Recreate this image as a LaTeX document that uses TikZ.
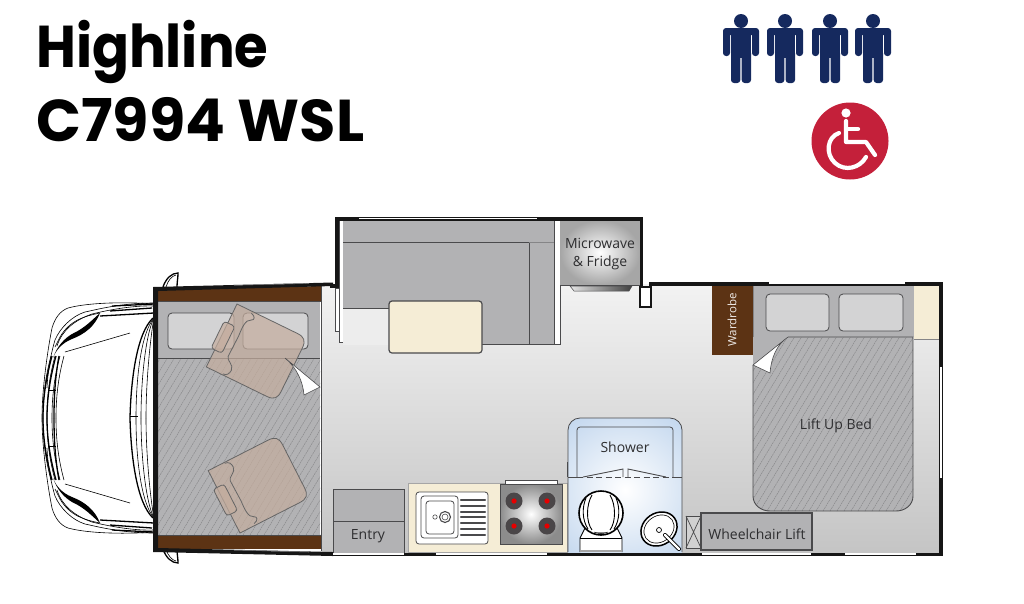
\documentclass[tikz,border=0pt]{standalone}
\usepackage{fontspec}
\setmainfont{Open Sans}
\newfontfamily\titlefont{Poppins}[BoldFont={Poppins Bold}]
\usetikzlibrary{shadings}

\definecolor{wallblack}{HTML}{161616}
\definecolor{woodbrown}{HTML}{5C3314}
\definecolor{seatgrey}{HTML}{B2B2B4}
\definecolor{pillowgrey}{HTML}{D3D3D4}
\definecolor{creamtop}{HTML}{F5EDD6}
\definecolor{edgegrey}{HTML}{4A4A4C}
\definecolor{hatchgrey}{HTML}{858587}
\definecolor{chairtan}{HTML}{C4AD9E}
\definecolor{showerblue}{HTML}{C6D9EF}
\definecolor{burnergrey}{HTML}{4A4648}
\definecolor{personblue}{HTML}{15295E}
\definecolor{badgered}{HTML}{C4203A}
\definecolor{labeltext}{HTML}{2E2E30}

\tikzset{
	wall/.style = {fill=wallblack, draw=none},
	pane/.style = {fill=white, draw=hatchgrey, line width=0.5pt},
	cushion/.style = {fill=seatgrey, draw=edgegrey, line width=0.7pt},
	pillow/.style = {fill=pillowgrey, draw=edgegrey, line width=0.8pt, rounded corners=4pt},
	hatchline/.style = {hatchgrey, line width=0.4pt, dash pattern=on 2pt off 0.7pt},
	cape/.style = {fill=white, draw=edgegrey, line width=0.6pt},
	chair/.style = {fill=chairtan, fill opacity=0.72, draw=black!60, line width=0.8pt},
	label/.style = {text=labeltext, font=\fontsize{14}{18}\selectfont, align=center, inner sep=0pt},
	titletext/.style = {anchor=base west, inner sep=0pt, font=\titlefont\bfseries\fontsize{59}{62}\selectfont},
	truck/.style = {black, line width=0.6pt},
	bigtruck/.style = {black, line width=1.3pt}
}

\newcommand{\chairshape}{
	\draw[chair] (0,0) -- (67,0) .. controls (75,0) and (78,3) .. (78,11) -- (78,59)
		.. controls (78,67) and (75,70) .. (67,70) -- (0,70) -- cycle;
	\draw[chair, fill=none] (17,2) .. controls (22,3) and (23,7) .. (20,8)
		.. controls (14,10) and (15,20) .. (15.5,28) -- (15,51)
		.. controls (15,55) and (24,56) .. (24,62) .. controls (24,66) and (22,69) .. (18,69);
	\draw[chair, rounded corners=3pt] (-4,21) rectangle (8,51);
}

\begin{document}
\begin{tikzpicture}[x=1pt, y=-1pt]
	\useasboundingbox (0,0) rectangle (1024,603);

	% title
	\node[titletext] (titleone) at (36,67) {\scalebox{0.924}[1]{Highline}};
	\node[titletext] (titletwo) at (36,141) {C7994 WSL};

	% people
	\foreach \personx in {741,785,830,873}
	{
		\begin{scope}[shift={(\personx,0)}]
			\fill[personblue] (0,21) circle[radius=7pt];
			\fill[personblue, rounded corners=3pt] (-18,28) rectangle (18,35);
			\fill[personblue, rounded corners=3pt] (-18,29) rectangle (-11,56);
			\fill[personblue, rounded corners=3pt] (11,29) rectangle (18,56);
			\fill[personblue] (-10,29) rectangle (10,58);
			\fill[personblue, rounded corners=3pt] (-10,50) rectangle (-0.7,83);
			\fill[personblue, rounded corners=3pt] (0.7,50) rectangle (10,83);
		\end{scope}
	}

	% wheelchair badge
	\fill[badgered] (850,141) circle[radius=38.5pt];
	\fill[white] (846,113) circle[radius=4.6pt];
	\draw[white, line width=4.2pt, line join=round, line cap=round] (846,121) -- (846,142) -- (866,142) -- (875,155);
	\draw[white, line width=4.2pt, line cap=round] (846,129) -- (858,129);
	\draw[white, line width=4.2pt, line cap=round] (839,133) .. controls (827,137) and (825,154) .. (835,163)
		.. controls (845,172) and (860,168) .. (866,157);

	% truck front, one half mirrored
	\foreach \mirror in {1,-1}
	{
		\begin{scope}[shift={(0,418)}, yscale=\mirror]
			\draw[truck] (154,-114) .. controls (130,-116) and (90,-116) .. (68,-110)
				.. controls (60,-107) and (55,-100) .. (52,-90) .. controls (48,-70) and (42,-30) .. (42,0);
			\draw[truck] (154,-115) .. controls (120,-115) and (95,-108) .. (85,-106)
				.. controls (72,-102) and (60,-90) .. (55,-78) .. controls (52,-68) and (48,-51) .. (47,-30);
			\draw[truck] (154,-112) .. controls (130,-113) and (100,-106) .. (92,-104)
				.. controls (75,-98) and (62,-88) .. (57,-72);
			\draw[bigtruck] (154,-114) -- (112,-112);
			\draw[bigtruck] (110,-107) -- (152,-110);
			% headlight
			\draw[truck] (100,-105) .. controls (85,-102) and (70,-98) .. (60,-81) -- (55,-71);
			\fill[black] (100,-105) .. controls (95,-92) and (85,-84) .. (72,-79)
				.. controls (62,-75) and (56,-68) .. (53,-60) .. controls (57,-72) and (65,-80) .. (72,-84)
				.. controls (85,-90) and (92,-98) .. (100,-105);
			\draw[bigtruck] (100,-102) -- (154,-105);
			\draw[truck] (65,-66) -- (130,-85);
			% windscreen
			\draw[bigtruck] (153,-100) .. controls (137,-85) and (131,-40) .. (130,0);
			\foreach \wx in {136,141,146}
				\draw[truck] (154,-100) .. controls (\wx+5,-85) and (\wx,-40) .. (\wx,0);
			% grille
			\foreach \gx in {43,47,52,56}
				\draw[truck] (\gx+8,-62) .. controls (\gx+2,-40) and (\gx,-20) .. (\gx,0);
			\draw[bigtruck] (56,-62) .. controls (50,-40) and (47,-20) .. (47,0);
			\draw[bigtruck] (59,-62) .. controls (55,-40) and (54,-20) .. (54,0);
			\draw[bigtruck] (52,-62) .. controls (46,-40) and (43,-20) .. (43,0);
			\draw[truck] (48,-28) -- (56,-28);
			% mirror
			\draw[bigtruck] (163,-131) .. controls (166,-140) and (172,-145) .. (178,-145) .. controls (178,-140) and (177,-136) .. (177,-131);
			\draw[truck] (166,-131) .. controls (168,-138) and (172,-142) .. (176,-143);
		\end{scope}
	}
	\draw[truck] (130,416) -- (138,416);

	% floor
	\shade[top color=black!5, bottom color=black!23] (322,284) rectangle (940,553);
	\shade[top color=black!5, bottom color=black!5] (336,218) rectangle (642,286);

	% side room seat and table
	\draw[pane, draw=edgegrey] (335,288) rectangle (339,331);
	\draw[pane, draw=edgegrey] (339,219) rectangle (343,342);
	\fill[seatgrey] (343,220) rectangle (554,344);
	\fill[black!7] (343,309) rectangle (389,345);
	\draw[edgegrey, line width=0.8pt] (343,242) -- (529,242) -- (529,344);
	\draw[edgegrey, line width=0.8pt] (343,308) -- (389,308);
	\draw[hatchgrey, line width=0.4pt] (529,242) -- (554,242);
	\draw[edgegrey, line width=0.8pt] (389,344) -- (560,344);
	\draw[pane, draw=edgegrey] (554,220) rectangle (560,344);
	\draw[fill=creamtop, draw=edgegrey, line width=1.2pt, rounded corners=3pt] (389,301) rectangle (482,353);

	% microwave and fridge
	\shade[inner color=white, outer color=black!35] (560,220) rectangle (640,285);
	\draw[edgegrey, line width=0.8pt] (560,285) -- (640,285);
	\shade[left color=black!10, right color=black!75, draw=edgegrey, line width=0.5pt] (570,286) -- (632,286) -- (629,291) -- (574,291) -- cycle;
	\node[label] (microwave) at (600,254) {Microwave\\\& Fridge};
	\draw[wall, fill=white, draw=wallblack, line width=2pt] (640,287) rectangle (651,307);

	% bed and wardrobe
	\fill[woodbrown] (712,285) rectangle (753,355);
	\node[label, text=white!90!woodbrown, rotate=90, font=\fontsize{11.5}{14}\selectfont] (wardrobe) at (732,320) {Wardrobe};
	\fill[seatgrey] (753,285) rectangle (914,337);
	\fill[creamtop] (914,285) rectangle (939,339);
	\draw[hatchgrey, line width=0.5pt] (914,339) -- (939,339);
	\draw[pillow] (766,294) rectangle (829,331);
	\draw[pillow] (839,294) rectangle (903,331);
	\begin{scope}
		\clip (753,337) -- (913,337) -- (913,496) .. controls (913,505) and (905,511) .. (896,511) -- (770,511)
			.. controls (761,511) and (753,505) .. (753,496) -- cycle;
		\fill[seatgrey] (753,337) rectangle (913,511);
		\foreach \hx in {648,655,...,918}
			\draw[hatchline] (\hx,511) -- ++(105,-175);
	\end{scope}
	\draw[edgegrey, line width=0.9pt] (788,337) -- (913,337) -- (913,496) .. controls (913,505) and (905,511) .. (896,511) -- (770,511)
		.. controls (761,511) and (753,505) .. (753,496) -- (753,365);
	\draw[hatchgrey, line width=0.5pt] (753,285) -- (753,365);
	\fill[seatgrey] (753,337) -- (788,337) -- (753,365) -- cycle;
	\draw[cape] (788,337) .. controls (777,344) and (771,358) .. (770,373) -- (753,365) -- cycle;
	\node[label] (liftbed) at (836,426) {Lift Up Bed};

	% entry step
	\draw[cushion, line width=1pt] (333,489) rectangle (404,553);
	\draw[edgegrey, line width=1pt] (333,521) -- (404,521);
	\node[label] (entry) at (368,536) {Entry};

	% kitchen bench
	\draw[fill=creamtop, draw=black!35, line width=0.6pt] (408,483) rectangle (567,552);
	\draw[fill=white, draw=edgegrey, line width=0.8pt, rounded corners=3pt] (416,492) rectangle (488,544);
	\draw[fill=white, draw=edgegrey, line width=0.8pt, rounded corners=3pt] (421,496) rectangle (458,538);
	\draw[fill=white, draw=edgegrey, line width=0.8pt, rounded corners=3pt] (426,501) rectangle (454,534);
	\draw[fill=white, draw=edgegrey, line width=1.1pt] (445,517) circle[radius=5.5pt];
	\draw[edgegrey, line width=0.6pt] (445,517) circle[radius=3pt];
	\draw[edgegrey, line width=0.6pt] (435,517) circle[radius=2.2pt];
	\foreach \drainy in {500,506,512,517,523,529,535}
		\draw[edgegrey, line width=2.2pt, line cap=round] (461,\drainy) -- (485,\drainy);

	% cooktop
	\draw[fill=white, draw=edgegrey, line width=0.7pt] (505,480) rectangle (557,484);
	\shade[inner color=white, outer color=black!45, draw=edgegrey, line width=0.7pt] (500,484) rectangle (562,544);
	\foreach \burnerx in {514,547}
		\foreach \burnery in {501,526}
		{
			\fill[burnergrey] (\burnerx,\burnery) circle[radius=8.5pt];
			\fill[red!90!black] (\burnerx,\burnery) circle[radius=2.6pt];
		}

	% bathroom
	\draw[edgegrey, line width=1pt] (567,462) -- (567,477);
	\begin{scope}
		\clip (500,400) rectangle (750,552);
		\clip[rounded corners=12pt] (568,600) -- (568,418) -- (682,418) -- (682,600) -- cycle;
		\shade[inner color=white, outer color=showerblue] (540,405) rectangle (710,575);
	\end{scope}
	\draw[edgegrey, line width=0.8pt, rounded corners=12pt] (568,552) -- (568,418) -- (682,418) -- (682,552);
	\draw[edgegrey, line width=0.8pt, rounded corners=3pt] (577,477) -- (577,427) -- (673,427) -- (673,477);
	\node[label] (shower) at (625,447) {Shower};
	\draw[edgegrey, line width=0.9pt] (568,477) -- (577,477);
	\draw[edgegrey, line width=0.9pt] (673,477) -- (682,477);
	\draw[edgegrey, line width=0.9pt, dash pattern=on 6pt off 3.5pt] (577,477) -- (673,477);
	\draw[edgegrey, line width=0.9pt] (583,477) -- (623,469) -- (623,477);
	\draw[edgegrey, line width=0.9pt] (628,477) -- (628,469) -- (666,477);

	% toilet
	\draw[fill=white, draw=black, line width=0.9pt] (580,552) -- (580,538) -- (585,528) -- (617,528) -- (622,538) -- (622,552);
	\draw[black, line width=1pt] (580,538) -- (622,538);
	\fill[black!35] (581,550) rectangle (622,552);
	\draw[fill=white, draw=black, line width=1.6pt] (601,513) circle[radius=22pt];
	\draw[black, line width=0.9pt] (592,495) .. controls (586,505) and (586,522) .. (592,530);
	\draw[black, line width=0.9pt] (610,495) .. controls (616,505) and (616,522) .. (610,530);
	\draw[black, line width=0.9pt] (586,498) .. controls (582,507) and (582,520) .. (588,529);
	\draw[black, line width=0.9pt] (616,498) .. controls (620,507) and (620,520) .. (614,529);
	\draw[fill=black!45, draw=black, line width=0.5pt] (594,532) .. controls (597,534) and (605,534) .. (608,532);

	% hand basin
	\draw[fill=white, draw=black, line width=1.5pt, rotate around={35:(659,529)}] (659,529) ellipse[x radius=19pt, y radius=16pt];
	\draw[black, line width=0.6pt, rotate around={35:(659,529)}] (659,529) ellipse[x radius=16pt, y radius=13pt];
	\draw[fill=white, draw=black, line width=0.7pt] (659,530) circle[radius=2.5pt];
	\draw[black, line width=4pt, line cap=round] (665,535) -- (679,549);
	\draw[white, line width=2.4pt, line cap=round] (665,535) -- (679,549);

	% wheelchair lift
	\draw[draw=edgegrey, fill=black!18, line width=1pt] (686,516) rectangle (701,548);
	\draw[edgegrey, line width=0.7pt] (686,516) -- (701,548) (701,516) -- (686,548);
	\draw[cushion, line width=1.4pt] (701,513) rectangle (812,550);
	\node[label] (lift) at (757,534) {Wheelchair Lift};

	% cab
	\fill[seatgrey] (158,300) rectangle (320,358);
	\draw[pillow] (168,313) rectangle (234,349);
	\draw[pillow] (243,313) rectangle (308,349);
	\begin{scope}
		\clip (158,358) rectangle (320,535);
		\fill[seatgrey] (158,358) rectangle (320,535);
		\foreach \hx in {40,47,...,326}
			\draw[hatchline] (\hx,535) -- ++(107,-178);
	\end{scope}
	\draw[edgegrey, line width=0.7pt] (158,358) -- (320,358);
	\begin{scope}[shift={(237,304)}, rotate=-26]
		\chairshape
	\end{scope}
	\begin{scope}[shift={(240,533)}, rotate=27, yscale=-1]
		\chairshape
	\end{scope}
	\draw[cape] (285,358) .. controls (297,368) and (303,382) .. (304,395) -- (320,387) -- cycle;
	\fill[woodbrown] (158,290) -- (321,286) -- (321,301) -- (158,301) -- cycle;
	\fill[woodbrown] (158,535) rectangle (321,549);
	\draw[edgegrey, line width=0.8pt] (158,301) -- (321,301) (158,535) -- (321,535);
	\draw[edgegrey, line width=0.8pt] (321,286) -- (321,551);

	% outer walls
	\fill[wall] (153,287) -- (333,282.5) -- (333,286) -- (158,291) -- (158,548) -- (333,552) -- (333,556) -- (153,552) -- cycle;
	\draw[pane] (234,285.2) -- (309,283.4);
	\draw[pane] (234,550) -- (309,552);
	\fill[wall] (330,284) rectangle (339,287.5);
	\fill[wall] (335,217) rectangle (339,287);
	\fill[wall] (335,217) rectangle (643,220.5);
	\fill[white] (359,217.5) rectangle (537,219.3);
	\fill[wall] (640,217) rectangle (643,287);
	\fill[wall] (649,282) rectangle (943,285.5);
	\fill[white] (769,282.3) rectangle (905,284);
	\fill[wall] (939,282) rectangle (943,556);
	\fill[white] (940,367) rectangle (942,478);
	\fill[wall] (333,552.5) rectangle (943,556);
	\fill[white] (333,553.3) rectangle (404,555);
	\fill[white] (436,553.3) rectangle (547,555);
	\fill[white] (702,553.3) rectangle (811,555);
	\fill[white] (845,553.3) rectangle (916,555);
\end{tikzpicture}
\end{document}
